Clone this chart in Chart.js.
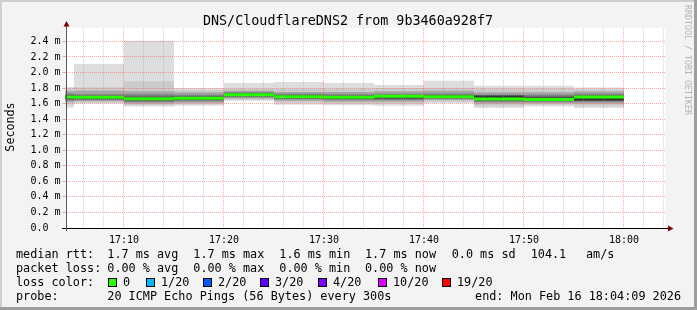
<!DOCTYPE html>
<html>
<head>
<meta charset="utf-8">
<title>DNS/CloudflareDNS2</title>
<script src="https://cdn.jsdelivr.net/npm/chart.js@4.4.1/dist/chart.umd.min.js"></script>
<style>
  html, body { margin: 0; padding: 0; background: #f3f3f3; }
  canvas { display: block; }
</style>
</head>
<body>
<canvas id="smokeChart" width="697" height="310"></canvas>
<script>
// 5 minute buckets, rrd step end times
const bucketEnds = ['17:05', '17:10', '17:15', '17:20', '17:25', '17:30', '17:35', '17:40', '17:45', '17:50', '17:55', '18:00'];
const graphEnd = '18:04:09';

// median rtt per bucket (ms)
const medianRtt = [1.685, 1.683, 1.662, 1.667, 1.714, 1.689, 1.680, 1.693, 1.689, 1.659, 1.654, 1.685];
// lost pings per bucket (of 20)
const lostPings = [0, 0, 0, 0, 0, 0, 0, 0, 0, 0, 0, 0];

// smoke: sorted ping rtt by rank (1 = fastest ... 20 = slowest), ms
const ping1  = [1.551, 1.600, 1.564, 1.573, 1.637, 1.586, 1.580, 1.573, 1.608, 1.543, 1.564, 1.543];
const ping2  = [1.590, 1.615, 1.580, 1.590, 1.650, 1.610, 1.600, 1.600, 1.625, 1.570, 1.585, 1.570];
const ping4  = [1.620, 1.630, 1.600, 1.610, 1.665, 1.635, 1.625, 1.625, 1.645, 1.600, 1.605, 1.600];
const ping6  = [1.640, 1.645, 1.620, 1.630, 1.680, 1.655, 1.645, 1.645, 1.660, 1.620, 1.620, 1.625];
const ping8  = [1.655, 1.655, 1.635, 1.645, 1.690, 1.665, 1.660, 1.660, 1.670, 1.635, 1.635, 1.640];
const ping10 = [1.665, 1.665, 1.645, 1.655, 1.700, 1.675, 1.670, 1.675, 1.680, 1.645, 1.645, 1.640];
const ping11 = [1.700, 1.695, 1.675, 1.680, 1.725, 1.700, 1.690, 1.705, 1.700, 1.700, 1.675, 1.695];
const ping13 = [1.710, 1.700, 1.690, 1.695, 1.735, 1.710, 1.700, 1.710, 1.710, 1.705, 1.690, 1.705];
const ping15 = [1.730, 1.720, 1.720, 1.715, 1.745, 1.725, 1.720, 1.725, 1.730, 1.715, 1.715, 1.725];
const ping17 = [1.760, 1.765, 1.757, 1.745, 1.765, 1.750, 1.750, 1.757, 1.765, 1.745, 1.745, 1.755];
const ping19 = [1.790, 1.810, 1.886, 1.775, 1.790, 1.790, 1.790, 1.800, 1.800, 1.790, 1.790, 1.780];
const ping20 = [1.814, 2.110, 2.409, 1.800, 1.865, 1.878, 1.865, 1.840, 1.895, 1.830, 1.830, 1.808];

// axis labels
const xTickLabels = ['17:10', '17:20', '17:30', '17:40', '17:50', '18:00'];
const yTickLabels = ['0.0', '0.2 m', '0.4 m', '0.6 m', '0.8 m', '1.0 m', '1.2 m', '1.4 m', '1.6 m', '1.8 m', '2.0 m', '2.2 m', '2.4 m'];

// legend texts
const titleText = 'DNS/CloudflareDNS2 from 9b3460a928f7';
const rttStats = ['1.7 ms avg', '1.7 ms max', '1.6 ms min', '1.7 ms now', '0.0 ms sd', '104.1', 'am/s'];
const lossStats = ['0.00 % avg', '0.00 % max', '0.00 % min', '0.00 % now'];
const lossLabels = ['0', '1/20', '2/20', '3/20', '4/20', '10/20', '19/20'];
const lossSteps = [0, 1, 2, 3, 4, 10, 19];
const lossColors = ['#26ff00', '#00b8ff', '#0059ff', '#5e00ff', '#7e00ff', '#dd00ff', '#ff0000'];
const probeText = '20 ICMP Echo Pings (56 Bytes) every 300s';
const endText = 'end: Mon Feb 16 18:04:09 2026';

const MONO = '"DejaVu Sans Mono", monospace';

function toMin(s) {
    const p = s.split(':').map(Number);
    return p[0] * 60 + p[1] + (p[2] || 0) / 60;
}

const axisEnd = toMin(graphEnd);
const axisStart = axisEnd - 60;
const bucketMid = bucketEnds.map(t => toMin(t) - 2.5);

function lossColor(lost) {
    let c = lossColors[0];
    lossSteps.forEach((s, i) => { if (lost >= s) c = lossColors[i]; });
    return c;
}

// smoke bands, outer (light) to inner (dark), like smokeping: grey = 190/10*(10-i)+50
const bands = [
    [1, ping1, ping20], [2, ping2, ping19], [4, ping4, ping17],
    [6, ping6, ping15], [8, ping8, ping13], [10, ping10, ping11]
];
const datasets = bands.map(([i, lo, hi]) => {
    const g = Math.floor(190 / 10 * (10 - i)) + 50;
    return {
        label: 'smoke' + i,
        data: bucketMid.map((x, k) => ({ x: x, y: [lo[k], hi[k]] })),
        backgroundColor: `rgb(${g},${g},${g})`,
        order: 20 - i
    };
});
// median line, about 3px thick
const medHalf = 0.0193;
datasets.push({
    label: 'median',
    data: bucketMid.map((x, k) => ({ x: x, y: [medianRtt[k] - medHalf, medianRtt[k] + medHalf] })),
    backgroundColor: lostPings.map(lossColor),
    order: 0
});

const MAJOR = 'rgba(255, 60, 60, 0.45)';
const MINOR = 'rgba(150, 150, 150, 0.45)';

const rrdFrame = {
    id: 'rrdFrame',
    beforeDraw(chart) {
        const { ctx, chartArea: a } = chart;
        ctx.save();
        ctx.fillStyle = '#f3f3f3';
        ctx.fillRect(0, 0, 697, 310);
        ctx.fillStyle = '#cfcfcf';
        ctx.fillRect(0, 0, 697, 2);
        ctx.fillRect(0, 0, 2, 310);
        ctx.fillStyle = '#9e9e9e';
        ctx.fillRect(694, 0, 3, 310);
        ctx.fillRect(0, 307, 697, 3);
        ctx.fillStyle = '#ffffff';
        ctx.fillRect(a.left, a.top, a.right - a.left, a.bottom - a.top);
        ctx.restore();
    },
    afterDraw(chart) {
        const { ctx, chartArea: a } = chart;
        ctx.save();
        // axes
        ctx.strokeStyle = '#000';
        ctx.lineWidth = 1;
        ctx.beginPath();
        ctx.moveTo(62, a.bottom + 0.5);
        ctx.lineTo(669, a.bottom + 0.5);
        ctx.stroke();
        ctx.strokeStyle = '#555';
        ctx.beginPath();
        ctx.moveTo(66.5, a.bottom + 3);
        ctx.lineTo(66.5, 25);
        ctx.stroke();
        ctx.fillStyle = '#800000';
        ctx.beginPath();
        ctx.moveTo(668, a.bottom - 2.5);
        ctx.lineTo(673.5, a.bottom + 0.5);
        ctx.lineTo(668, a.bottom + 3.5);
        ctx.closePath();
        ctx.fill();
        ctx.beginPath();
        ctx.moveTo(63.5, 26.5);
        ctx.lineTo(66.5, 21);
        ctx.lineTo(69.5, 26.5);
        ctx.closePath();
        ctx.fill();

        // title
        ctx.fillStyle = '#000';
        ctx.textBaseline = 'alphabetic';
        ctx.textAlign = 'center';
        ctx.font = '13.4px ' + MONO;
        ctx.fillText(titleText, 348, 25);

        // y axis title
        ctx.font = '11.7px ' + MONO;
        ctx.save();
        ctx.translate(10.5, 127);
        ctx.rotate(-Math.PI / 2);
        ctx.textBaseline = 'middle';
        ctx.fillText('Seconds', 0, 0);
        ctx.restore();

        // watermark
        ctx.save();
        ctx.translate(687.5, 5);
        ctx.rotate(Math.PI / 2);
        ctx.textAlign = 'left';
        ctx.textBaseline = 'middle';
        ctx.font = '8.3px ' + MONO;
        ctx.fillStyle = '#b4b4b4';
        ctx.fillText('RRDTOOL / TOBI OETIKER', 0, 0);
        ctx.restore();

        // legend
        ctx.textAlign = 'left';
        ctx.font = '11.8px ' + MONO;
        ctx.fillStyle = '#000';
        const rows = [258.3, 272.2, 286.1, 300];
        const statX = [107.3, 193.3, 279.3, 365, 451.7, 530.7, 586];
        ctx.fillText('median rtt:', 16, rows[0]);
        rttStats.forEach((s, i) => ctx.fillText(s, statX[i], rows[0]));
        ctx.fillText('packet loss:', 16, rows[1]);
        lossStats.forEach((s, i) => ctx.fillText(s, statX[i], rows[1]));
        ctx.fillText('loss color:', 16, rows[2]);
        const boxX = [108, 146, 203, 260, 318, 378, 442];
        lossLabels.forEach((s, i) => {
            ctx.fillStyle = lossColors[i];
            ctx.fillRect(boxX[i], 278, 9, 9);
            ctx.strokeStyle = '#000';
            ctx.strokeRect(boxX[i] + 0.5, 278.5, 8, 8);
            ctx.fillStyle = '#000';
            ctx.fillText(s, boxX[i] + 15, rows[2]);
        });
        ctx.fillText('probe:', 16, rows[3]);
        ctx.fillText(probeText, 107.3, rows[3]);
        ctx.textAlign = 'right';
        ctx.fillText(endText, 681, rows[3]);
        ctx.restore();
    }
};

new Chart(document.getElementById('smokeChart'), {
    type: 'bar',
    data: { datasets: datasets },
    options: {
        responsive: false,
        animation: false,
        layout: { padding: { top: 28, right: 31.5, bottom: 0, left: 0 } },
        datasets: {
            bar: {
                barThickness: 'flex',
                barPercentage: 1,
                categoryPercentage: 1,
                inflateAmount: 0,
                borderWidth: 0
            }
        },
        plugins: {
            legend: { display: false },
            tooltip: { enabled: false },
            title: { display: false }
        },
        scales: {
            x: {
                type: 'linear',
                stacked: true,
                min: axisStart,
                max: axisEnd,
                offset: false,
                grid: {
                    z: 1,
                    offset: false,
                    drawTicks: false,
                    lineWidth: 1,
                    color: c => (Math.round(c.tick.value) % 10 === 0 ? MAJOR : MINOR)
                },
                border: { display: false, dash: [1, 1] },
                ticks: {
                    autoSkip: false,
                    maxRotation: 0,
                    padding: 6,
                    color: '#000',
                    font: { family: MONO, size: 10 },
                    callback: v => xTickLabels.find(l => toMin(l) === v) || ''
                },
                afterBuildTicks: s => {
                    const t = [];
                    for (let m = Math.ceil(axisStart / 2) * 2; m <= axisEnd; m += 2) t.push({ value: m });
                    s.ticks = t;
                },
                afterFit: s => { s.height = 82; }
            },
            y: {
                stacked: false,
                min: 0,
                max: 2.572,
                grid: {
                    z: 1,
                    drawTicks: true,
                    tickLength: 3,
                    lineWidth: 1,
                    color: c => (Math.round(c.tick.value * 10) % 2 === 0 ? MAJOR : MINOR),
                    tickColor: c => (Math.round(c.tick.value * 10) % 2 === 0 ? MAJOR : MINOR)
                },
                border: { display: false, dash: [1, 1] },
                ticks: {
                    padding: 2,
                    color: '#000',
                    font: { family: MONO, size: 10 },
                    callback: v => {
                        const n = Math.round(v * 10);
                        return n % 2 === 0 ? yTickLabels[n / 2].padEnd(5, ' ') : '';
                    }
                },
                afterBuildTicks: s => {
                    const t = [];
                    for (let n = 0; n <= 25; n++) t.push({ value: n / 10 });
                    s.ticks = t;
                },
                afterFit: s => { s.width = 65.5; }
            }
        }
    },
    plugins: [rrdFrame]
});
</script>
</body>
</html>
